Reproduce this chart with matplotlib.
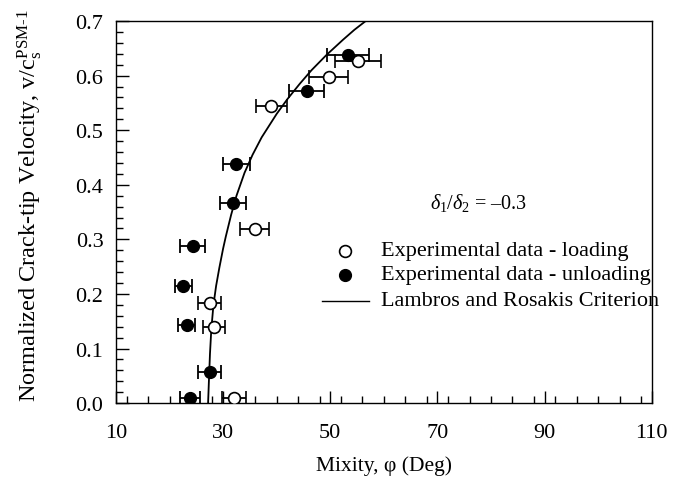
import numpy as np
import matplotlib
matplotlib.use("Agg")
import matplotlib.pyplot as plt
from matplotlib.ticker import MultipleLocator

plt.rcParams['font.family'] = ['Liberation Serif', 'DejaVu Serif']
plt.rcParams['mathtext.fontset'] = 'custom'
plt.rcParams['mathtext.rm'] = 'Liberation Serif'
plt.rcParams['mathtext.it'] = 'Liberation Serif:italic'

# loading (open symbols)
load_x = [55.2, 49.7, 39.0, 35.9, 27.5, 28.3, 32.0]
load_y = [0.627, 0.598, 0.545, 0.319, 0.183, 0.140, 0.009]
load_err = [4.3, 3.7, 2.9, 2.7, 2.1, 2.1, 2.2]

# unloading (filled symbols)
unload_x = [53.3, 45.6, 32.5, 31.8, 24.3, 22.6, 23.2, 27.5, 23.8]
unload_y = [0.638, 0.572, 0.438, 0.366, 0.288, 0.214, 0.143, 0.057, 0.009]
unload_err = [4.0, 3.3, 2.5, 2.4, 2.4, 1.6, 1.6, 2.1, 1.9]

# Lambros and Rosakis criterion
crit_x = [27.2, 27.35, 27.55, 27.8, 28.2, 28.7, 29.3, 30.0, 30.5, 31.5, 32.5,
          34.0, 35.5, 37.2, 40.0, 42.0, 44.3, 46.5, 49.3, 52.4, 54.5, 56.6]
crit_y = [0.0, 0.04, 0.09, 0.135, 0.18, 0.215, 0.248, 0.283, 0.305, 0.345,
          0.38, 0.422, 0.455, 0.487, 0.530, 0.557, 0.585, 0.610, 0.638,
          0.666, 0.684, 0.700]

fig = plt.figure(figsize=(6.74, 5.02), dpi=100)
ax = fig.add_axes([0.172, 0.195, 0.795, 0.761])

ax.plot(crit_x, crit_y, color='black', lw=1.3, solid_joinstyle='round', zorder=2)
ax.errorbar(load_x, load_y, xerr=load_err, fmt='o', ms=8.5, mfc='white',
            mec='black', mew=1.2, ecolor='black', elinewidth=1.3, capsize=5,
            capthick=1.3, zorder=3)
ax.errorbar(unload_x, unload_y, xerr=unload_err, fmt='o', ms=8.5, mfc='black',
            mec='black', ecolor='black', elinewidth=1.3, capsize=5,
            capthick=1.3, zorder=3)

# legend drawn by hand, no frame
lx, ly = 52.7, [0.279, 0.235, 0.188]
ax.plot([lx], [ly[0]], 'o', ms=8.5, mfc='white', mec='black', mew=1.2)
ax.plot([lx], [ly[1]], 'o', ms=8.5, mfc='black', mec='black')
ax.plot([lx - 4.3, lx + 4.6], [ly[2], ly[2]], color='black', lw=1.0)
labels = ['Experimental data - loading', 'Experimental data - unloading',
          'Lambros and Rosakis Criterion']
for y, t in zip(ly, labels):
    ax.text(59.4, y, t, fontsize=16, va='center', ha='left', clip_on=False)

ax.text(68.6, 0.368, r'$\delta_\mathregular{1}/\delta_\mathregular{2}$ = –0.3',
        fontsize=14.5, va='center', ha='left')

ax.set_xlim(10, 110)
ax.set_ylim(0, 0.7)
ax.set_xticks([10, 30, 50, 70, 90, 110])
ax.xaxis.set_minor_locator(MultipleLocator(4))
ax.yaxis.set_major_locator(MultipleLocator(0.1))
ax.yaxis.set_minor_locator(MultipleLocator(0.02))
ax.yaxis.set_major_formatter(matplotlib.ticker.FormatStrFormatter('%.1f'))
ax.tick_params(which='both', direction='in', top=False, right=False,
               labelsize=16, width=1)
ax.tick_params(which='major', length=9)
ax.tick_params(which='minor', length=5)
ax.tick_params(axis='x', which='major', pad=14)
ax.tick_params(axis='y', which='major', pad=9)
for s in ax.spines.values():
    s.set_linewidth(1)

ax.set_xlabel('Mixity, φ (Deg)', fontsize=15.5, labelpad=10)
ax.set_ylabel('Normalized Crack-tip Velocity, v/c$_\\mathregular{s}^\\mathregular{PSM\u20101}$',
              fontsize=17.5)
ax.yaxis.set_label_coords(-0.135, 0.52)

fig.savefig('out.png', dpi=100)
